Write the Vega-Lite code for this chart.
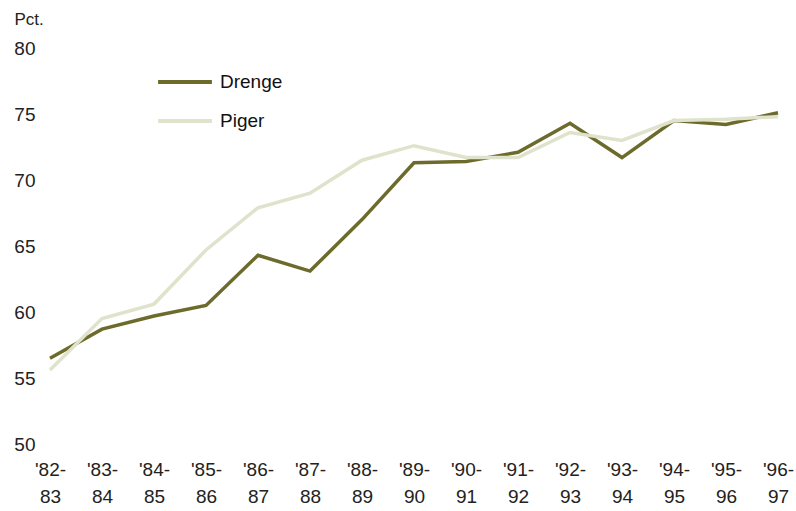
{
  "$schema": "https://vega.github.io/schema/vega-lite/v6.json",
  "width": 728,
  "height": 396,
  "autosize": {"type": "none"},
  "padding": {"left": 50, "top": 48, "right": 18, "bottom": 67},
  "background": "white",
  "config": {"view": {"stroke": null}, "font": "Liberation Sans"},
  "data": {"values": [
    {"year": "'82-|83", "group": "Drenge", "pct": 56.5},
    {"year": "'83-|84", "group": "Drenge", "pct": 58.7},
    {"year": "'84-|85", "group": "Drenge", "pct": 59.7},
    {"year": "'85-|86", "group": "Drenge", "pct": 60.5},
    {"year": "'86-|87", "group": "Drenge", "pct": 64.3},
    {"year": "'87-|88", "group": "Drenge", "pct": 63.1},
    {"year": "'88-|89", "group": "Drenge", "pct": 67.0},
    {"year": "'89-|90", "group": "Drenge", "pct": 71.3},
    {"year": "'90-|91", "group": "Drenge", "pct": 71.4},
    {"year": "'91-|92", "group": "Drenge", "pct": 72.1},
    {"year": "'92-|93", "group": "Drenge", "pct": 74.3},
    {"year": "'93-|94", "group": "Drenge", "pct": 71.7},
    {"year": "'94-|95", "group": "Drenge", "pct": 74.5},
    {"year": "'95-|96", "group": "Drenge", "pct": 74.2},
    {"year": "'96-|97", "group": "Drenge", "pct": 75.1},
    {"year": "'82-|83", "group": "Piger", "pct": 55.6},
    {"year": "'83-|84", "group": "Piger", "pct": 59.5},
    {"year": "'84-|85", "group": "Piger", "pct": 60.6},
    {"year": "'85-|86", "group": "Piger", "pct": 64.7},
    {"year": "'86-|87", "group": "Piger", "pct": 67.9},
    {"year": "'87-|88", "group": "Piger", "pct": 69.0},
    {"year": "'88-|89", "group": "Piger", "pct": 71.5},
    {"year": "'89-|90", "group": "Piger", "pct": 72.6},
    {"year": "'90-|91", "group": "Piger", "pct": 71.7},
    {"year": "'91-|92", "group": "Piger", "pct": 71.7},
    {"year": "'92-|93", "group": "Piger", "pct": 73.6},
    {"year": "'93-|94", "group": "Piger", "pct": 73.0},
    {"year": "'94-|95", "group": "Piger", "pct": 74.5},
    {"year": "'95-|96", "group": "Piger", "pct": 74.6},
    {"year": "'96-|97", "group": "Piger", "pct": 74.8}
  ]},
  "mark": {"type": "line", "strokeWidth": 3.5, "strokeJoin": "miter"},
  "encoding": {
    "x": {
      "field": "year", "type": "ordinal", "sort": null,
      "scale": {"type": "point", "padding": 0},
      "axis": {
        "title": null, "domain": false, "ticks": false, "grid": false,
        "labelAngle": 0, "labelFontSize": 19, "labelColor": "#222222",
        "labelPadding": 16, "labelLineHeight": 27, "labelBaseline": "top",
        "labelExpr": "split(datum.value, '|')"
      }
    },
    "y": {
      "field": "pct", "type": "quantitative",
      "scale": {"domain": [50, 80], "nice": false, "zero": false},
      "axis": {
        "values": [50, 55, 60, 65, 70, 75, 80],
        "domain": false, "ticks": false, "grid": false,
        "labelFontSize": 19, "labelColor": "#222222", "labelPadding": 15,
        "title": "Pct.", "titleAngle": 0, "titleAlign": "left", "titleBaseline": "middle",
        "titleX": -36, "titleY": -29, "titleFontSize": 17, "titleFontWeight": "normal", "titleColor": "#222222"
      }
    },
    "color": {
      "field": "group", "type": "nominal",
      "scale": {"domain": ["Drenge", "Piger"], "range": ["#6d6b2c", "#dfe3cc"]},
      "legend": {
        "title": null, "orient": "none", "legendX": 106, "legendY": 5,
        "symbolType": "stroke", "symbolSize": 2900, "symbolStrokeWidth": 4,
        "labelFontSize": 19, "labelColor": "#111111", "labelOffset": 6,
        "rowPadding": -17
      }
    }
  }
}
